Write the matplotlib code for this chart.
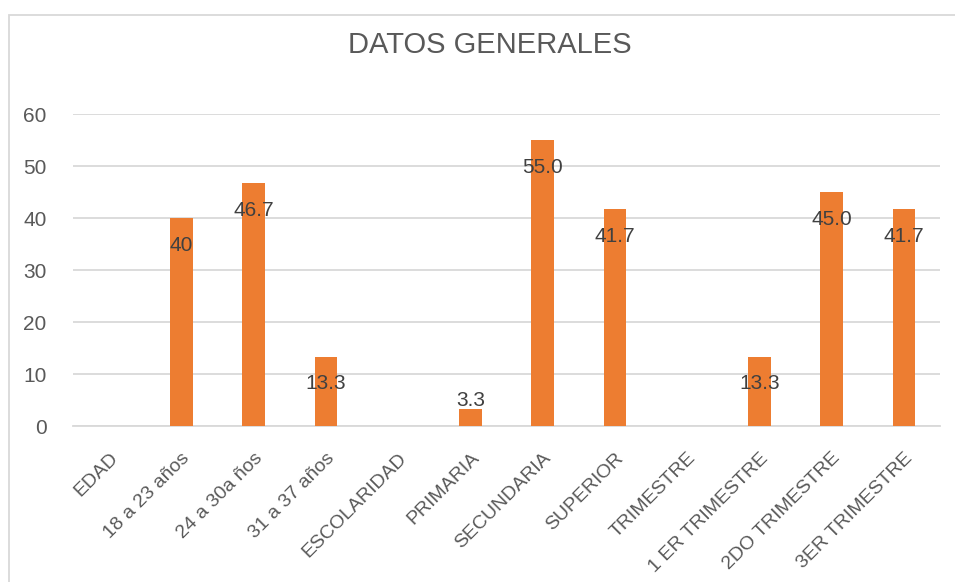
import matplotlib
matplotlib.use("Agg")
import matplotlib.pyplot as plt
import matplotlib.patches as mpatches

categories = ["EDAD", "18 a 23 años", "24 a 30a ños", "31 a 37 años", "ESCOLARIDAD",
              "PRIMARIA", "SECUNDARIA", "SUPERIOR", "TRIMESTRE", "1 ER TRIMESTRE",
              "2DO TRIMESTRE", "3ER TRIMESTRE"]
values = [0, 40, 46.7, 13.3, 0, 3.3, 55.0, 41.7, 0, 13.3, 45.0, 41.7]
value_labels = ["", "40", "46.7", "13.3", "", "3.3", "55.0", "41.7", "", "13.3", "45.0", "41.7"]
yticks = [0, 10, 20, 30, 40, 50, 60]

ORANGE = "#ed7d31"
GRID = "#d9d9d9"
TXT = "#595959"

plt.rcParams["font.family"] = ["Liberation Sans", "DejaVu Sans"]

fig = plt.figure(figsize=(9.55, 5.82), dpi=100)
W, H = 955, 582
# plot area in pixels: left 73, right 940, top y=114 (60), bottom y=426 (0)
ax = fig.add_axes([73 / W, 1 - 426 / H, (940 - 73) / W, (426 - 114) / H])

x = list(range(len(categories)))
ax.bar(x, values, width=0.31, color=ORANGE, zorder=3)
ax.set_xlim(-0.5, len(categories) - 0.5)
ax.set_ylim(0, 60)
ax.set_yticks(yticks)
ax.yaxis.grid(True, color=GRID, lw=1.3, zorder=0)
ax.set_axisbelow(True)
for s in ["top", "right", "left"]:
    ax.spines[s].set_visible(False)
ax.spines["bottom"].set_color(GRID)
ax.spines["bottom"].set_linewidth(1.3)
ax.tick_params(axis="both", length=0, colors=TXT)
ax.tick_params(axis="y", pad=19, labelsize=15)
ax.set_xticks(x)
ax.set_xticklabels(categories, rotation=45, ha="right", rotation_mode="anchor",
                   fontsize=14)
ax.tick_params(axis="x", pad=17)

# data labels: just inside the bar top, kept above the baseline
for xi, v, lab in zip(x, values, value_labels):
    if not lab:
        continue
    ax.text(xi, max(v - 5.2, 5.0), lab, ha="center", va="center",
            fontsize=15, color="#404040", zorder=4)

fig.text(490 / W, 1 - 45 / H, "DATOS GENERALES", ha="center", va="center",
         fontsize=21, color=TXT)

# chart outer border
fig.add_artist(mpatches.Rectangle((9 / W, -0.01), 1.0, 1 - 15 / H + 0.01,
                                  transform=fig.transFigure, fill=False,
                                  edgecolor=GRID, lw=1.3))

fig.savefig("out.png", dpi=100)
